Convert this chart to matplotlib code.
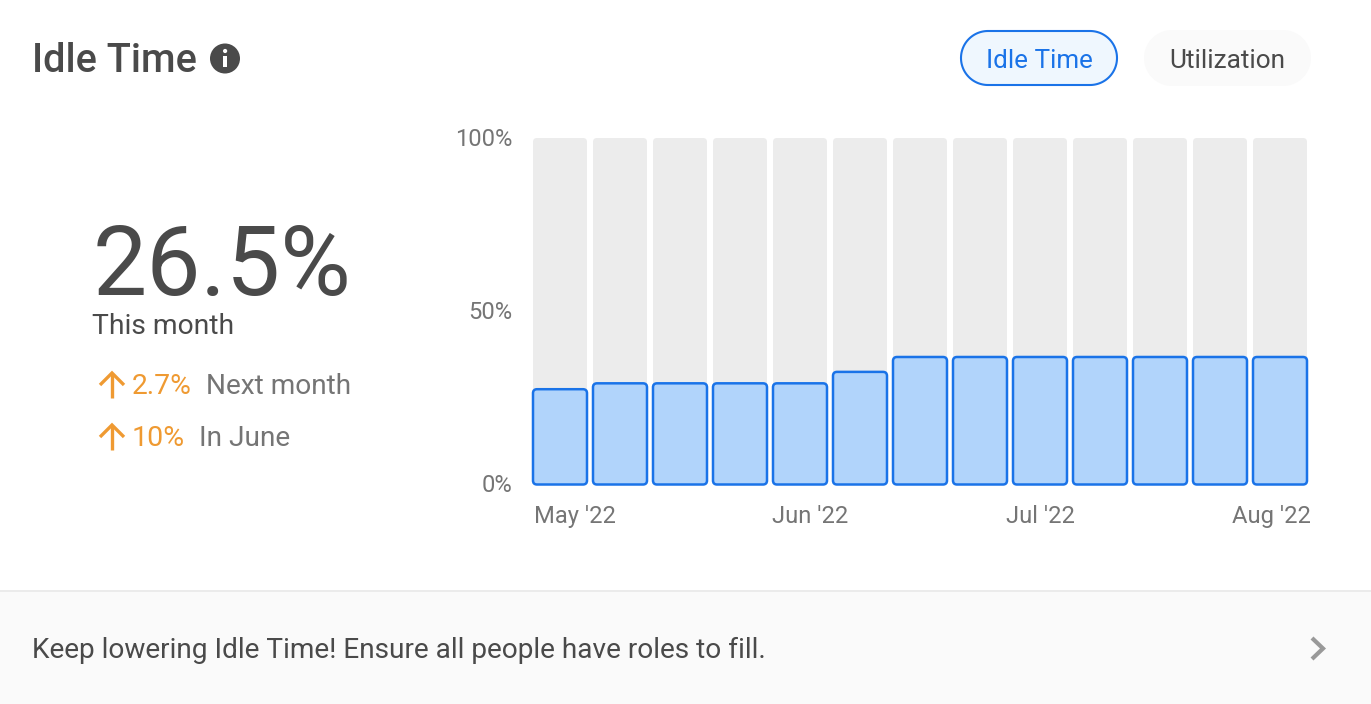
import matplotlib
matplotlib.use("Agg")
import numpy as np
import matplotlib.pyplot as plt
from matplotlib.patches import FancyBboxPatch, Circle, Rectangle, Polygon
from matplotlib.transforms import ScaledTranslation

plt.rcParams['font.family'] = ['Roboto', 'DejaVu Sans']

periods = list(range(13))
idle_values = [27.5, 29.2, 29.2, 29.2, 29.2, 32.5, 36.8, 36.8, 36.8, 36.8, 36.8, 36.8, 36.8]
total_values = [100] * 13
y_ticks = [0, 50, 100]
y_tick_labels = ['0%', '50%', '100%']
x_tick_positions = [0, 4, 8, 12]
x_tick_labels = ["May '22", "Jun '22", "Jul '22", "Aug '22"]

W, H = 1371, 704
fig = plt.figure(figsize=(W / 100, H / 100), dpi=100, facecolor='white')

# page overlay in pixel coordinates
ui = fig.add_axes([0, 0, 1, 1], zorder=0)
ui.set_xlim(0, W); ui.set_ylim(H, 0); ui.axis('off')

DARK = '#4a4a4a'
GREY = '#757575'
BLUE = '#1a73e8'
ORANGE = '#ef9a32'

ui.add_patch(Rectangle((0, 591), W, H - 591, fc='#fafafa', ec='none'))
ui.plot([0, W], [591, 591], color='#ebebeb', lw=1.4, solid_capstyle='butt')

ui.text(32, 72, 'Idle Time', fontsize=28.6, fontweight='medium', color=DARK, va='baseline', ha='left')
ui.add_patch(Circle((225, 58.5), 15, fc=DARK, ec='none'))
ui.add_patch(Rectangle((223.3, 56), 3.6, 11, fc='white', ec='none'))
ui.add_patch(Circle((225.1, 51), 2.1, fc='white', ec='none'))

def pill(x0, x1, y0, y1, **kw):
    r = (y1 - y0) / 2
    cy = (y0 + y1) / 2
    t = np.linspace(-np.pi / 2, np.pi / 2, 60)
    right_side = np.column_stack([x1 - r + r * np.cos(t), cy + r * np.sin(t)])
    left_side = np.column_stack([x0 + r - r * np.cos(t[::-1] * -1), cy - r * np.sin(t)])
    ui.add_patch(Polygon(np.vstack([right_side, left_side]), closed=True, **kw))

pill(961, 1117, 31, 85, fc='#eff7fe', ec=BLUE, lw=1.5)
ui.text(1039, 67.5, 'Idle Time', fontsize=18.7, color=BLUE, ha='center', va='baseline')
pill(1144, 1311, 30, 86, fc='#fafafa', ec='none')
ui.text(1227.5, 67.5, 'Utilization', fontsize=18.9, color=DARK, ha='center', va='baseline')

ui.text(92.5, 295, '26.5%', fontsize=69.5, fontweight='normal', color=DARK, ha='left', va='baseline')
ui.text(92, 334, 'This month', fontsize=20.3, color=DARK, ha='left', va='baseline')

def up_arrow(cx, top, bottom):
    ui.plot([cx, cx], [top + 1, bottom], color=ORANGE, lw=2.4, solid_capstyle='butt')
    ui.plot([cx - 12, cx, cx + 12], [top + 12, top, top + 12], color=ORANGE, lw=2.4,
            solid_joinstyle='miter', solid_capstyle='butt')

up_arrow(112, 373, 398)
ui.text(132, 394, '2.7%', fontsize=20.3, color=ORANGE, ha='left', va='baseline')
ui.text(206, 394, 'Next month', fontsize=20.2, color=GREY, ha='left', va='baseline')
up_arrow(112, 425, 450)
ui.text(132, 446, '10%', fontsize=20.5, color=ORANGE, ha='left', va='baseline')
ui.text(199, 446, 'In June', fontsize=20.2, color=GREY, ha='left', va='baseline')

ui.text(32, 658, 'Keep lowering Idle Time! Ensure all people have roles to fill.', fontsize=20.13,
        color=DARK, ha='left', va='baseline')
ui.plot([1312, 1323, 1312], [638, 648.5, 659], color='#999999', lw=3, solid_joinstyle='miter', solid_capstyle='butt')

# chart axes: bars span 533..1307 px, values 0..100 span 484.5..138 px
left, right, top, bottom = 533, 1307, 138, 484.5
ax = fig.add_axes([left / W, 1 - bottom / H, (right - left) / W, (bottom - top) / H], zorder=1)
ax.patch.set_alpha(0)
BAR_W = 0.9
ax.set_xlim(-BAR_W / 2, 12 + BAR_W / 2)
ax.set_ylim(0, 100)
px_x = (right - left) / (12 + BAR_W)
px_y = (bottom - top) / 100

def rounded_bar(x, v, radius, **kw):
    aspect = px_x / px_y
    ax.add_patch(FancyBboxPatch((x - BAR_W / 2, 0), BAR_W, v,
                                boxstyle=f'round,pad=0,rounding_size={radius / px_x}',
                                mutation_aspect=aspect, clip_on=False, **kw))

for x, t in zip(periods, total_values):
    rounded_bar(x, t, 4, fc='#ececec', ec='none', zorder=2)
for x, v in zip(periods, idle_values):
    rounded_bar(x, v, 4, fc='#b1d4fb', ec=BLUE, lw=1.8, zorder=3)

for s in ax.spines.values():
    s.set_visible(False)
ax.set_yticks(y_ticks, y_tick_labels)
ax.set_xticks(x_tick_positions, x_tick_labels)
ax.tick_params(axis='both', length=0, labelsize=17.1, labelcolor=GREY)
ax.tick_params(axis='y', pad=14)
ax.tick_params(axis='x', pad=15)
# edge labels are kept inside the plot, as in the original chart
offsets_px = [-26, 10, 0, 31]
aligns = ['left', 'center', 'center', 'right']
for lab, dx, ha in zip(ax.get_xticklabels(), offsets_px, aligns):
    lab.set_ha(ha)
    lab.set_transform(lab.get_transform() + ScaledTranslation(dx / 100, 0, fig.dpi_scale_trans))
for lab in ax.get_yticklabels():
    lab.set_transform(lab.get_transform() + ScaledTranslation(-1 / 100, 1 / 100, fig.dpi_scale_trans))

fig.savefig('out.png', dpi=100, facecolor='white')
